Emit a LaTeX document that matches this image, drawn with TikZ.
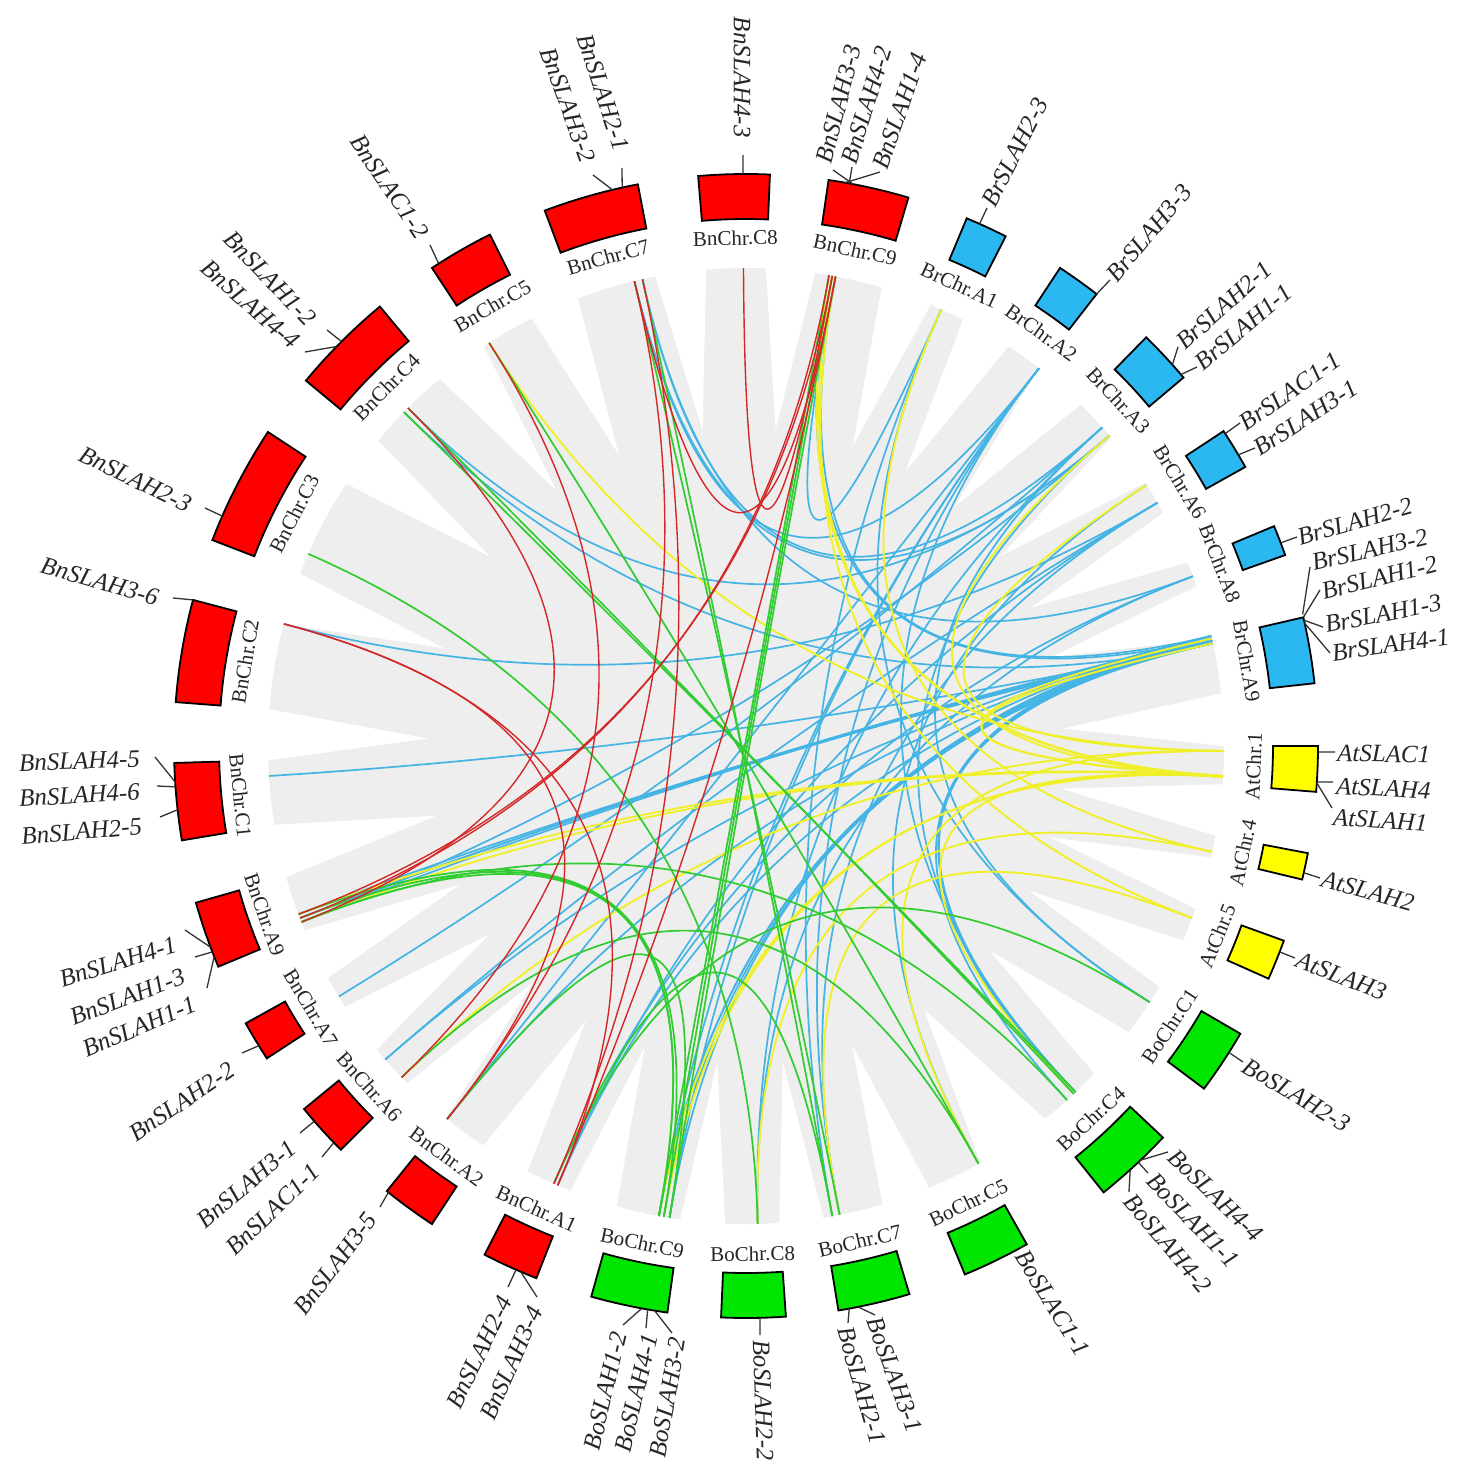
\documentclass[tikz,border=0pt]{standalone}
\usepackage{fontspec}
\setmainfont{Liberation Serif}
\definecolor{cred}{HTML}{FF0000}
\definecolor{cblue}{HTML}{2BB7F0}
\definecolor{cyel}{HTML}{FFFF00}
\definecolor{cgrn}{HTML}{00E600}
\definecolor{lred}{HTML}{D42828}
\definecolor{lblue}{HTML}{44B4E4}
\definecolor{lyel}{HTML}{F0F02A}
\definecolor{lgrn}{HTML}{30CC30}
\definecolor{bgray}{HTML}{EEEEEE}
\newcommand{\mkgene}[2]{\coordinate (#1) at (#2:478pt); \coordinate (#1-c) at (#2:159pt); \coordinate (#1-o) at (#2:572pt);}
\newcommand{\mklink}[3]{\draw[#1] (#2) .. controls (#2-c) and (#3-c) .. (#3);}
\newcommand{\mkchr}[3]{\draw[boxst, fill=#3] (#1:527pt) arc[start angle=#1, end angle=#2, radius=527pt] -- (#2:572pt) arc[start angle=#2, end angle=#1, radius=572pt] -- cycle;}
\newcommand{\mkgap}[2]{\fill[white] (#1:490pt) -- (#1:477pt) -- ({(#1+#2)/2}:318pt) -- (#2:477pt) -- (#2:490pt) -- cycle;}
\begin{document}
\begin{tikzpicture}[x=1pt,y=1pt,
  boxst/.style={draw=black, line width=1.8pt, line join=miter},
  chrlab/.style={font=\fontsize{21}{23}\selectfont, inner sep=0pt, text=black!85},
  glab/.style={font=\itshape\fontsize{25}{27}\selectfont, inner sep=0pt, text=black!85},
  tickst/.style={draw=black!80, line width=1.3pt},
  lb/.style={draw=lblue, line width=1.7pt},
  ly/.style={draw=lyel, line width=1.9pt},
  lg/.style={draw=lgrn, line width=1.7pt},
  lr/.style={draw=lred, line width=1.4pt}]
\fill[white] (-746,-736) rectangle (718,746);
\useasboundingbox (-746,-736) rectangle (718,746);
% grey ribbons background
\fill[bgray] (0,0) circle[radius=478pt];
\mkgap{81.7}{87.6}\mkgap{94.8}{100.9}\mkgap{110.6}{116.6}\mkgap{123.3}{129.8}
\mkgap{140.3}{146.7}\mkgap{158.9}{165.2}\mkgap{175.6}{181.7}\mkgap{189.5}{195.9}
\mkgap{202.7}{209}\mkgap{213.1}{219.4}\mkgap{224.9}{231.1}\mkgap{236.7}{242.8}
\mkgap{248.5}{254.3}\mkgap{262.1}{267.5}\mkgap{274}{279.3}\mkgap{286.6}{292.5}
\mkgap{299.4}{308.7}\mkgap{316.8}{323.2}\mkgap{329.8}{336}\mkgap{340.1}{346.5}
\mkgap{349.2}{355.4}\mkgap{0}{6.3}\mkgap{13}{19.5}\mkgap{22.6}{29.2}
\mkgap{33.4}{40.1}\mkgap{45.6}{52.2}\mkgap{56.7}{63}\mkgap{67.3}{73.5}
% gene positions
\mkgene{nC843}{90.3}\mkgene{nC721}{102.5}\mkgene{nC732}{103.5}\mkgene{nC5C12}{122.5}
\mkgene{nC412}{135.0}\mkgene{nC444}{135.7}\mkgene{nC323}{156.3}\mkgene{nC236}{165.2}
\mkgene{nC145}{183.6}\mkgene{nC146}{184.1}\mkgene{nC125}{186.4}
\mkgene{nA941}{200.6}\mkgene{nA913}{201.1}\mkgene{nA911}{201.6}
\mkgene{nA722}{211.6}\mkgene{nA631}{221.0}\mkgene{nA6C11}{223.9}\mkgene{nA235}{231.3}
\mkgene{nA124}{246.3}\mkgene{nA134}{246.8}
\mkgene{nC933}{79.2}\mkgene{nC942}{79.6}\mkgene{nC914}{80.0}
\mkgene{oC912}{259.5}\mkgene{oC941}{260.1}\mkgene{oC932}{260.8}\mkgene{oC822}{271.4}
\mkgene{oC721}{280.4}\mkgene{oC731}{281.3}\mkgene{oC5C11}{299.1}
\mkgene{oC444}{313.6}\mkgene{oC411}{313.3}\mkgene{oC442}{312.2}\mkgene{oC123}{327.6}
\mkgene{aT53}{338.9}\mkgene{aT42}{347.2}\mkgene{aT1C1}{359.4}\mkgene{aT14}{356.4}\mkgene{aT11}{356.3}
\mkgene{rA932}{13.3}\mkgene{rA912}{13.0}\mkgene{rA913}{12.7}\mkgene{rA941}{12.4}
\mkgene{rA822}{20.8}\mkgene{rA6C11}{33.1}\mkgene{rA631}{30.6}
\mkgene{rA321}{41.8}\mkgene{rA311}{40.5}\mkgene{rA233}{52.2}\mkgene{rA123}{65.9}
% blue links
\mklink{lb}{rA6C11}{oC5C11}\mklink{lb}{rA311}{nA911}\mklink{lb}{rA311}{oC411}
\mklink{lb}{rA912}{nA913}\mklink{lb}{rA912}{nC914}\mklink{lb}{rA913}{nA913}
\mklink{lb}{rA913}{oC912}\mklink{lb}{rA912}{oC912}\mklink{lb}{rA123}{oC721}
\mklink{lb}{rA321}{nA722}\mklink{lb}{rA822}{nA124}\mklink{lb}{rA321}{oC123}
\mklink{lb}{rA321}{oC822}\mklink{lb}{rA822}{nC721}\mklink{lb}{rA631}{nA631}
\mklink{lb}{rA631}{nC236}\mklink{lb}{rA932}{nC933}\mklink{lb}{rA932}{nA134}
\mklink{lb}{rA233}{nA235}\mklink{lb}{rA233}{oC731}\mklink{lb}{rA932}{oC932}
\mklink{lb}{rA631}{oC731}\mklink{lb}{rA233}{nC732}\mklink{lb}{rA941}{nA941}
\mklink{lb}{rA941}{nC444}\mklink{lb}{rA941}{nC145}\mklink{lb}{rA941}{oC444}
\mklink{lb}{rA941}{oC941}\mklink{lb}{rA913}{nA911}\mklink{lb}{rA932}{nA235}
\mklink{lb}{rA123}{nC933}\mklink{lb}{rA233}{oC912}\mklink{lb}{rA822}{oC822}
\mklink{lb}{rA311}{nC412}\mklink{lb}{rA912}{oC411}\mklink{lb}{rA913}{oC442}
\mklink{lb}{rA932}{nA631}\mklink{lb}{rA631}{nA134}\mklink{lb}{rA233}{oC932}
\mklink{lb}{rA321}{nC721}\mklink{lb}{rA311}{nC732}\mklink{lb}{rA123}{oC123}
\mklink{lb}{rA233}{oC444}
% yellow links
\mklink{ly}{aT1C1}{rA6C11}\mklink{ly}{aT1C1}{oC5C11}\mklink{ly}{aT1C1}{nA6C11}
\mklink{ly}{aT1C1}{nC5C12}\mklink{ly}{aT11}{rA311}\mklink{ly}{aT11}{rA912}
\mklink{ly}{aT11}{oC411}\mklink{ly}{aT11}{oC912}\mklink{ly}{aT11}{nA911}
\mklink{ly}{aT11}{nC914}\mklink{ly}{aT14}{oC941}\mklink{ly}{aT14}{nA941}
\mklink{ly}{aT14}{nC942}\mklink{ly}{aT14}{rA941}\mklink{ly}{aT42}{rA123}
\mklink{ly}{aT42}{oC822}\mklink{ly}{aT53}{nC933}\mklink{ly}{aT53}{oC731}
% green links
\mklink{lg}{oC5C11}{nC5C12}\mklink{lg}{oC5C11}{nA6C11}\mklink{lg}{oC411}{nC412}
\mklink{lg}{oC442}{nA911}\mklink{lg}{oC912}{nC914}\mklink{lg}{oC912}{nA913}
\mklink{lg}{oC721}{nC721}\mklink{lg}{oC822}{nC323}\mklink{lg}{oC721}{nA124}
\mklink{lg}{oC123}{nA124}\mklink{lg}{oC731}{nC732}\mklink{lg}{oC932}{nC933}
\mklink{lg}{oC932}{nA235}\mklink{lg}{oC941}{nC942}\mklink{lg}{oC941}{nA941}
\mklink{lg}{oC444}{nC444}\mklink{lg}{oC912}{nA911}
% red links
\mklink{lr}{nC843}{nC942}\mklink{lr}{nC732}{nC933}\mklink{lr}{nC721}{nA124}
\mklink{lr}{nC5C12}{nA6C11}\mklink{lr}{nC236}{nA235}\mklink{lr}{nA913}{nC914}
\mklink{lr}{nA941}{nC942}\mklink{lr}{nA911}{nC412}\mklink{lr}{nC732}{nA235}
\mklink{lr}{nC933}{nA134}\mklink{lr}{nC236}{nA134}
% chromosome boxes
\mkchr{87.6}{94.8}{cred}\mkchr{100.9}{110.6}{cred}\mkchr{116.6}{123.3}{cred}
\mkchr{129.8}{140.3}{cred}\mkchr{146.7}{158.9}{cred}\mkchr{165.2}{175.6}{cred}
\mkchr{181.7}{189.5}{cred}\mkchr{195.9}{202.7}{cred}\mkchr{209}{213.1}{cred}
\mkchr{219.4}{224.9}{cred}\mkchr{231.1}{236.7}{cred}\mkchr{242.8}{248.5}{cred}
\mkchr{73.5}{81.7}{cred}
\mkchr{254.3}{262.1}{cgrn}\mkchr{267.5}{274}{cgrn}\mkchr{279.3}{286.6}{cgrn}
\mkchr{292.5}{299.4}{cgrn}\mkchr{308.7}{316.8}{cgrn}\mkchr{323.2}{329.8}{cgrn}
\mkchr{336}{340.1}{cyel}\mkchr{346.5}{349.2}{cyel}\mkchr{355.4}{360}{cyel}
\mkchr{6.3}{13}{cblue}\mkchr{19.5}{22.6}{cblue}\mkchr{29.2}{33.4}{cblue}
\mkchr{40.1}{45.6}{cblue}\mkchr{52.2}{56.7}{cblue}\mkchr{63}{67.3}{cblue}
% chromosome labels
\node[chrlab, rotate=1.2] (kC8) at (91.2:508pt) {BnChr.C8};
\node[chrlab, rotate=15.75] (kC7) at (105.75:508pt) {BnChr.C7};
\node[chrlab, rotate=30] (kC5) at (119.95:508pt) {BnChr.C5};
\node[chrlab, rotate=45] (kC4) at (135.05:508pt) {BnChr.C4};
\node[chrlab, rotate=62.8] (kC3) at (152.8:508pt) {BnChr.C3};
\node[chrlab, rotate=80.4] (kC2) at (170.4:508pt) {BnChr.C2};
\node[chrlab, rotate=-84.4] (kC1) at (185.6:508pt) {BnChr.C1};
\node[chrlab, rotate=-70.7] (kA9) at (199.3:510pt) {BnChr.A9};
\node[chrlab, rotate=-58.95] (kA7) at (211.05:508pt) {BnChr.A7};
\node[chrlab, rotate=-47.85] (kA6) at (222.15:508pt) {BnChr.A6};
\node[chrlab, rotate=-36.1] (kA2) at (233.9:508pt) {BnChr.A2};
\node[chrlab, rotate=-24.35] (kA1) at (245.65:508pt) {BnChr.A1};
\node[chrlab, rotate=-11.8] (oK9) at (258.2:508pt) {BoChr.C9};
\node[chrlab, rotate=0.75] (oK8) at (270.75:508pt) {BoChr.C8};
\node[chrlab, rotate=12.95] (oK7) at (282.95:508pt) {BoChr.C7};
\node[chrlab, rotate=25.95] (oK5) at (295.95:508pt) {BoChr.C5};
\node[chrlab, rotate=42.75] (oK4) at (312.75:508pt) {BoChr.C4};
\node[chrlab, rotate=56.5] (oK1) at (326.5:508pt) {BoChr.C1};
\node[chrlab, rotate=68] (tK5) at (338.05:508pt) {AtChr.5};
\node[chrlab, rotate=77.85] (tK4) at (347.85:508pt) {AtChr.4};
\node[chrlab, rotate=87.7] (tK1) at (357.7:508pt) {AtChr.1};
\node[chrlab, rotate=-80.35] (rK9) at (9.65:508pt) {BrChr.A9};
\node[chrlab, rotate=-68.95] (rK8) at (21.05:508pt) {BrChr.A8};
\node[chrlab, rotate=-58.7] (rK6) at (31.3:508pt) {BrChr.A6};
\node[chrlab, rotate=-47.15] (rK3) at (42.85:508pt) {BrChr.A3};
\node[chrlab, rotate=-35.55] (rK2) at (54.45:508pt) {BrChr.A2};
\node[chrlab, rotate=-24.85] (rK1) at (65.15:508pt) {BrChr.A1};
\node[chrlab, rotate=-12.4] (kC9) at (77.6:508pt) {BnChr.C9};
% gene ticks and labels
\draw[tickst] (nC843-o) -- (-3,591); \node[glab, rotate=-90, anchor=east] (g1) at (-4,608) {BnSLAH4-3};
\draw[tickst] (nC721-o) -- (-124,578); \node[glab, rotate=-72, anchor=east] (g2) at (-124,596) {BnSLAH2-1};
\draw[tickst] (nC732-o) -- (-153,571); \node[glab, rotate=-70, anchor=east] (g3) at (-157,584) {BnSLAH3-2};
\draw[tickst] (nC5C12-o) -- (-316,501); \node[glab, rotate=-56, anchor=east] (g4) at (-323,510) {BnSLAC1-2};
\draw[tickst] (nC412-o) -- (-419,416); \node[glab, rotate=-46, anchor=east] (g5) at (-434,424) {BnSLAH1-2};
\draw[tickst] (nC444-o) -- (-441,394); \node[glab, rotate=-41, anchor=east] (g6) at (-450,402) {BnSLAH4-4};
\draw[tickst] (nC323-o) -- (-541,238); \node[glab, rotate=-26, anchor=east] (g7) at (-556,240) {BnSLAH2-3};
\draw[tickst] (nC236-o) -- (-573,148); \node[glab, rotate=-16, anchor=east] (g8) at (-588,148) {BnSLAH3-6};
\draw[tickst] (nC145-o) -- (-591,-11); \node[glab, rotate=2, anchor=east] (g9) at (-606,-13) {BnSLAH4-5};
\draw[tickst] (nC146-o) -- (-589,-40); \node[glab, rotate=3, anchor=east] (g10) at (-606,-46) {BnSLAH4-6};
\draw[tickst] (nC125-o) -- (-586,-71); \node[glab, rotate=5, anchor=east] (g11) at (-604,-80) {BnSLAH2-5};
\draw[tickst] (nA941-o) -- (-561,-184); \node[glab, rotate=17, anchor=east] (g12) at (-570,-198) {BnSLAH4-1};
\draw[tickst] (nA913-o) -- (-551,-211); \node[glab, rotate=21, anchor=east] (g13) at (-562,-229) {BnSLAH1-3};
\draw[tickst] (nA911-o) -- (-539,-242); \node[glab, rotate=23, anchor=east] (g14) at (-551,-257) {BnSLAH1-1};
\draw[tickst] (nA722-o) -- (-504,-307); \node[glab, rotate=34, anchor=east] (g15) at (-514,-322) {BnSLAH2-2};
\draw[tickst] (nA631-o) -- (-446,-387); \node[glab, rotate=40, anchor=east] (g16) at (-453,-399) {BnSLAH3-1};
\draw[tickst] (nA6C11-o) -- (-424,-411); \node[glab, rotate=44, anchor=east] (g17) at (-430,-422) {BnSLAC1-1};
\draw[tickst] (nA235-o) -- (-366,-461); \node[glab, rotate=53, anchor=east] (g18) at (-374,-469) {BnSLAH3-5};
\draw[tickst] (nA124-o) -- (-238,-541); \node[glab, rotate=64, anchor=east] (g19) at (-240,-552) {BnSLAH2-4};
\draw[tickst] (nA134-o) -- (-209,-551); \node[glab, rotate=66, anchor=east] (g20) at (-210,-562) {BnSLAH3-4};
\draw[tickst] (oC912-o) -- (-123,-579); \node[glab, rotate=77, anchor=east] (g21) at (-127,-586) {BoSLAH1-2};
\draw[tickst] (oC941-o) -- (-100,-582); \node[glab, rotate=77, anchor=east] (g22) at (-96,-588) {BoSLAH4-1};
\draw[tickst] (oC932-o) -- (-74,-587); \node[glab, rotate=80, anchor=east] (g23) at (-68,-592) {BoSLAH3-2};
\draw[tickst] (oC822-o) -- (14,-589); \node[glab, rotate=-88, anchor=west] (g24) at (15,-594) {BoSLAH2-2};
\draw[tickst] (oC721-o) -- (102,-577); \node[glab, rotate=-74, anchor=west] (g25) at (99,-581) {BoSLAH2-1};
\draw[tickst] (oC731-o) -- (129,-569); \node[glab, rotate=-70, anchor=west] (g26) at (128,-572) {BoSLAH3-1};
\draw[tickst] (oC5C11-o) -- (274,-502); \node[glab, rotate=-58, anchor=west] (g27) at (275,-506) {BoSLAC1-1};
\draw[tickst] (oC444-o) -- (422,-406); \node[glab, rotate=-44, anchor=west] (g28) at (426,-407) {BoSLAH4-4};
\draw[tickst] (oC411-o) -- (402,-427); \node[glab, rotate=-46, anchor=west] (g29) at (405,-431) {BoSLAH1-1};
\draw[tickst] (oC442-o) -- (383,-446); \node[glab, rotate=-50, anchor=west] (g30) at (383,-451) {BoSLAH4-2};
\draw[tickst] (oC123-o) -- (497,-316); \node[glab, rotate=-31, anchor=west] (g31) at (499,-318) {BoSLAH2-3};
\draw[tickst] (aT53-o) -- (549,-212); \node[glab, rotate=-21, anchor=west] (g32) at (551,-213) {AtSLAH3};
\draw[tickst] (aT42-o) -- (574,-132); \node[glab, rotate=-15, anchor=west] (g33) at (576,-133) {AtSLAH2};
\draw[tickst] (aT1C1-o) -- (589,-6); \node[glab, rotate=-1, anchor=west] (g34) at (591,-7) {AtSLAC1};
\draw[tickst] (aT14-o) -- (587,-36); \node[glab, rotate=-3, anchor=west] (g35) at (590,-40) {AtSLAH4};
\draw[tickst] (aT11-o) -- (586,-62); \node[glab, rotate=-4, anchor=west] (g36) at (587,-71) {AtSLAH1};
\draw[tickst] (rA932-o) -- (564,179); \node[glab, rotate=13, anchor=west] (g37) at (566,183) {BrSLAH3-2};
\draw[tickst] (rA912-o) -- (574,156); \node[glab, rotate=14, anchor=west] (g38) at (576,154) {BrSLAH1-2};
\draw[tickst] (rA913-o) -- (577,119); \node[glab, rotate=11, anchor=west] (g39) at (579,121) {BrSLAH1-3};
\draw[tickst] (rA941-o) -- (584,93); \node[glab, rotate=8, anchor=west] (g40) at (586,93) {BrSLAH4-1};
\draw[tickst] (rA822-o) -- (551,209); \node[glab, rotate=16, anchor=west] (g41) at (552,208) {BrSLAH2-2};
\draw[tickst] (rA6C11-o) -- (494,323); \node[glab, rotate=35, anchor=west] (g42) at (496,321) {BrSLAC1-1};
\draw[tickst] (rA631-o) -- (509,298); \node[glab, rotate=33, anchor=west] (g43) at (510,296) {BrSLAH3-1};
\draw[tickst] (rA321-o) -- (432,399); \node[glab, rotate=42, anchor=west] (g44) at (434,401) {BrSLAH2-1};
\draw[tickst] (rA311-o) -- (451,379); \node[glab, rotate=40, anchor=west] (g45) at (452,381) {BrSLAH1-1};
\draw[tickst] (rA233-o) -- (364,466); \node[glab, rotate=50, anchor=west] (g46) at (365,468) {BrSLAH3-3};
\draw[tickst] (rA123-o) -- (241,538); \node[glab, rotate=63, anchor=west] (g47) at (242,541) {BrSLAH2-3};
\draw[tickst] (nC933-o) -- (87,576); \node[glab, rotate=76, anchor=west] (g48) at (78,583) {BnSLAH3-3};
\draw[tickst] (nC942-o) -- (106,579); \node[glab, rotate=73, anchor=west] (g49) at (103,583) {BnSLAH4-2};
\draw[tickst] (nC914-o) -- (134,574); \node[glab, rotate=71, anchor=west] (g50) at (134,578) {BnSLAH1-4};
\end{tikzpicture}
\end{document}
